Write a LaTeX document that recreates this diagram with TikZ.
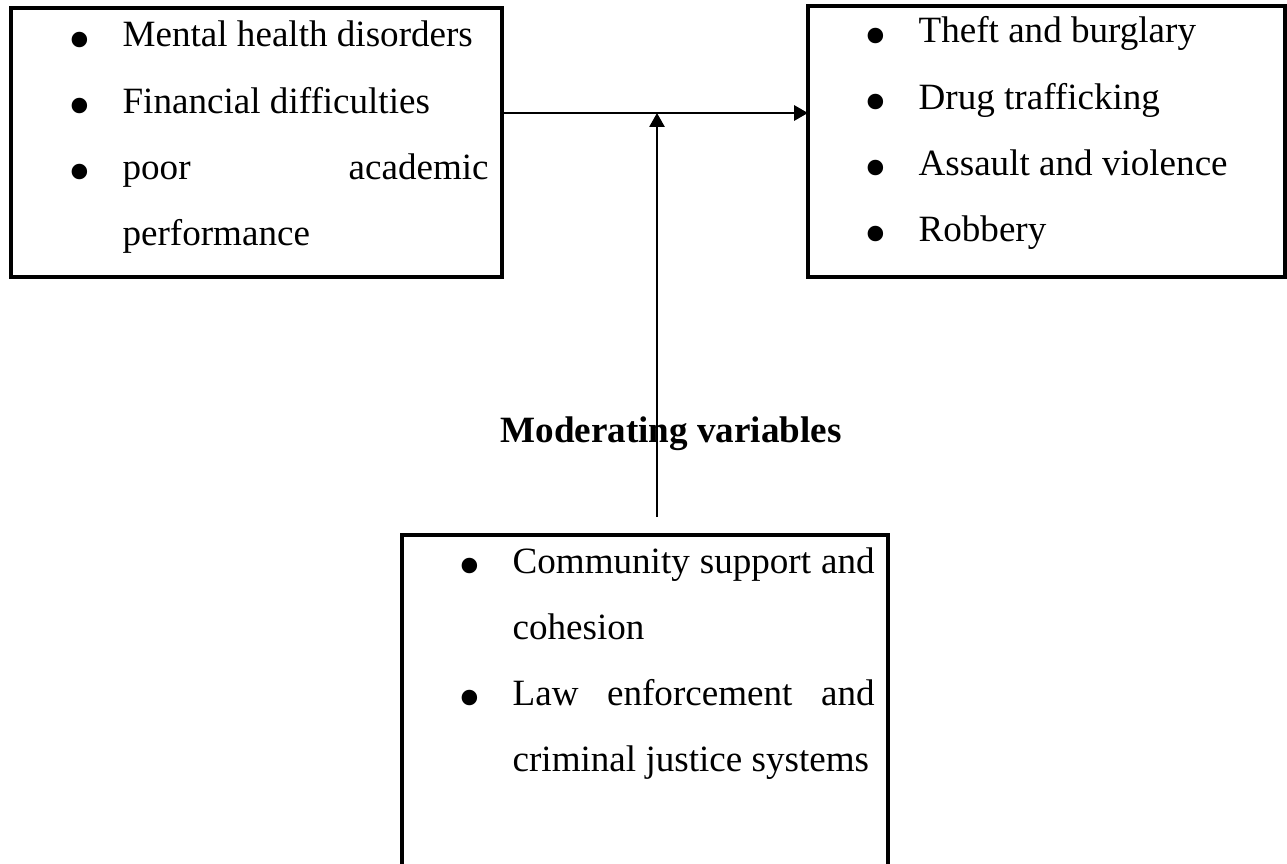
\documentclass[tikz,border=0pt]{standalone}
\usepackage{fontspec}
\setmainfont{Liberation Serif}
\usetikzlibrary{arrows.meta}
\newdimen\pxu \pxu=0.3235pt
\newcommand\bulmark{\noindent\llap{\raisebox{-4.6pt}{\scalebox{1.75}{\textbullet}}\hspace{31\pxu}}}
\newcommand\bul{\par\bulmark}
\tikzset{
  box/.style={draw,line width=1.15pt,inner sep=0pt,outer sep=0pt,anchor=north west},
  items/.style={anchor=base west,inner sep=0pt,align=justify,
    font={\fontsize{12pt}{21.4pt}\selectfont\hyphenpenalty=10000}},
  conn/.style={line width=0.8pt,-{Triangle[length=4.5pt,width=4.9pt]}}
}
\begin{document}
\begin{tikzpicture}[x=0.3235pt,y=-0.3235pt]
\useasboundingbox (0,0) rectangle (1287,864);
\node[box,minimum width=491\pxu,minimum height=269\pxu] (ind) at (11,8) {};
\node[box,minimum width=477\pxu,minimum height=271\pxu] (dep) at (808,6) {};
\node[box,minimum width=486\pxu,minimum height=400\pxu] (mod) at (402,535) {};
\node[items,text width=366\pxu] (indtxt) at (122,47)
  {\bulmark Mental health disorders \bul Financial difficulties
   \bul poor academic\linebreak performance};
\node[items,text width=340\pxu] (deptxt) at (918,43)
  {\bulmark Theft and burglary \bul Drug trafficking
   \bul Assault and violence \bul Robbery};
\node[items,text width=362\pxu] (modtxt) at (512,573)
  {\bulmark Community support and\linebreak cohesion
   \bul Law enforcement and\linebreak criminal justice systems};
\node[anchor=base,inner sep=0pt,font=\fontsize{12pt}{14pt}\selectfont\bfseries]
  (modlbl) at (671,442) {Moderating variables};
\coordinate (junc) at (657,113);
\coordinate (modtop) at (657,517);
\draw[conn] (ind.east |- junc) -- (dep.west |- junc);
\draw[conn,line width=0.65pt] (modtop) -- (junc);
\end{tikzpicture}
\end{document}
